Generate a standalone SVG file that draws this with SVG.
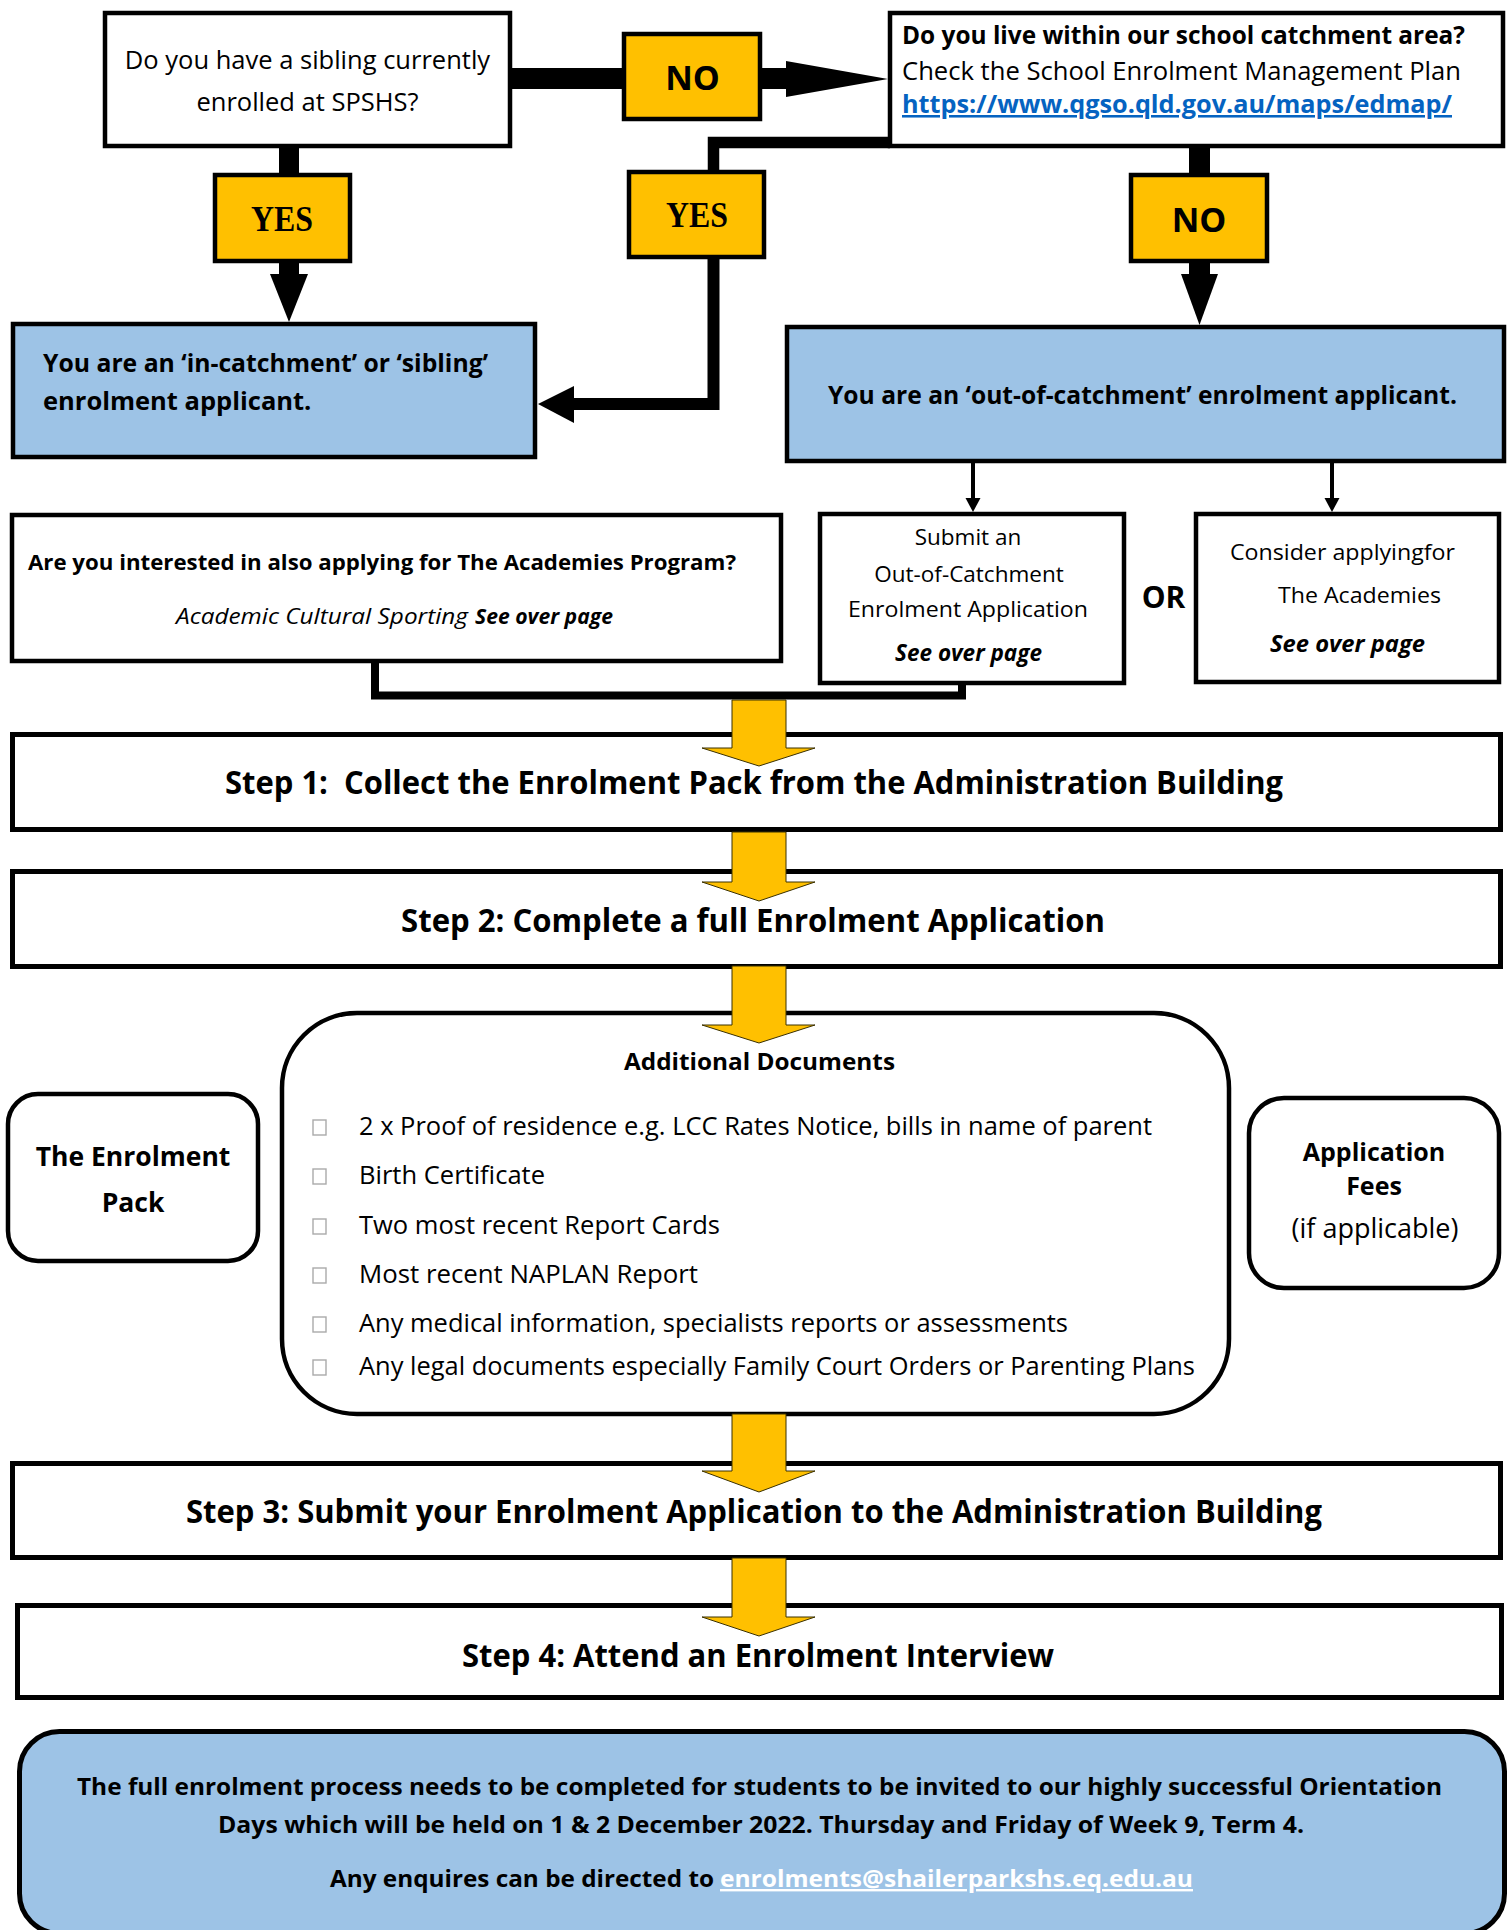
<svg xmlns="http://www.w3.org/2000/svg" width="1509" height="1930" viewBox="0 0 1509 1930">
<style>
.box{fill:#fff;stroke:#000;stroke-width:4.5}
.blue{fill:#9DC3E6;stroke:#000;stroke-width:4.5}
.lbl{fill:#FFC000;stroke:#000;stroke-width:4.5}
.step{fill:#fff;stroke:#000;stroke-width:5}
.t{font-family:"Open Sans","Noto Sans","Liberation Sans",sans-serif;font-size:25.5px;fill:#000}
.b{font-weight:700}
.i{font-style:italic}
.m{text-anchor:middle}
.yes{font-family:"Liberation Serif","Times New Roman",serif;font-weight:700;font-size:35px;text-anchor:middle}
.no{font-weight:700;font-size:34px;text-anchor:middle}
.st{font-weight:700;font-size:32px}
.sm{font-size:22.5px}
.bt{font-weight:700;font-size:24px}
.yarrow{fill:#FFC000;stroke:#3a3000;stroke-width:1}
.chk{fill:none;stroke:#aaa;stroke-width:1.4}
.thick{fill:none;stroke:#000;stroke-linejoin:miter}
</style>

<g id="sibling-question">
<rect class="box" x="105" y="13" width="405" height="133"/>
<text class="t m" x="307.5" y="69">Do you have a sibling currently</text>
<text class="t m" x="307.5" y="111">enrolled at SPSHS?</text>
</g>

<g id="no-label-1">
<rect class="lbl" x="624" y="34" width="136" height="85"/>
<text class="t no" x="692.5" y="90">NO</text>
</g>

<g id="catchment-question">
<rect class="box" x="890" y="13" width="613" height="133"/>
<text class="t b" x="902" y="44" textLength="563" lengthAdjust="spacingAndGlyphs">Do you live within our school catchment area?</text>
<text class="t" x="902" y="80" textLength="559" lengthAdjust="spacingAndGlyphs">Check the School Enrolment Management Plan</text>
<text class="t b" x="902" y="113" style="fill:#0563C1" text-decoration="underline" textLength="550" lengthAdjust="spacingAndGlyphs">https://www.qgso.qld.gov.au/maps/edmap/</text>
</g>

<g id="yes-label-1">
<rect class="lbl" x="215" y="175" width="135" height="86"/>
<text class="yes" x="282" y="231" textLength="62" lengthAdjust="spacingAndGlyphs">YES</text>
</g>

<g id="yes-label-2">
<rect class="lbl" x="629" y="172" width="135" height="85"/>
<text class="yes" x="697" y="227" textLength="62" lengthAdjust="spacingAndGlyphs">YES</text>
</g>

<g id="no-label-2">
<rect class="lbl" x="1131" y="175" width="136" height="86"/>
<text class="t no" x="1199" y="232">NO</text>
</g>

<g id="in-catchment">
<rect class="blue" x="13" y="324" width="522" height="133"/>
<text class="t b" x="43" y="372" textLength="445" lengthAdjust="spacingAndGlyphs">You are an ‘in-catchment’ or ‘sibling’</text>
<text class="t b" x="43" y="410">enrolment applicant.</text>
</g>

<g id="out-of-catchment">
<rect class="blue" x="787" y="327" width="717" height="134"/>
<text class="t b" x="828" y="404" textLength="629" lengthAdjust="spacingAndGlyphs">You are an ‘out-of-catchment’ enrolment applicant.</text>
</g>

<g id="academies-question">
<rect class="box" x="12" y="515" width="769" height="146"/>
<text class="t b" x="28" y="570" style="font-size:22px" textLength="708" lengthAdjust="spacingAndGlyphs">Are you interested in also applying for The Academies Program?</text>
<text class="t i" x="176" y="624" style="font-size:22px" textLength="292" lengthAdjust="spacingAndGlyphs">Academic Cultural Sporting</text>
<text class="t b i" x="475" y="624" style="font-size:22px" textLength="138" lengthAdjust="spacingAndGlyphs">See over page</text>
</g>

<g id="submit-ooc">
<rect class="box" x="820" y="514" width="304" height="169"/>
<text class="t sm m" x="968" y="545">Submit an</text>
<text class="t sm m" x="969" y="582">Out-of-Catchment</text>
<text class="t sm m" x="968" y="617" textLength="240" lengthAdjust="spacingAndGlyphs">Enrolment Application</text>
<text class="t sm b i m" x="968.5" y="661">See over page</text>
</g>

<g id="or-label">
<text class="t b m" x="1163.5" y="608" style="font-size:30px">OR</text>
</g>

<g id="consider-academies">
<rect class="box" x="1196" y="514" width="303" height="168"/>
<text class="t sm" x="1230" y="560" textLength="225" lengthAdjust="spacingAndGlyphs">Consider applyingfor</text>
<text class="t sm" x="1278" y="603" textLength="163" lengthAdjust="spacingAndGlyphs">The Academies</text>
<text class="t sm b i" x="1270" y="652" textLength="155" lengthAdjust="spacingAndGlyphs">See over page</text>
</g>

<g id="step-1">
<rect class="step" x="12.5" y="734.5" width="1488" height="95"/>
<text class="t st" x="225" y="794" xml:space="preserve" textLength="1058" lengthAdjust="spacingAndGlyphs">Step 1:  Collect the Enrolment Pack from the Administration Building</text>
</g>

<g id="step-2">
<rect class="step" x="12.5" y="871.5" width="1488" height="95"/>
<text class="t st" x="401" y="932" textLength="704" lengthAdjust="spacingAndGlyphs">Step 2: Complete a full Enrolment Application</text>
</g>

<g id="enrolment-pack">
<rect class="box" x="8" y="1094" width="250" height="167" rx="30"/>
<text class="t b m" x="133" y="1166" style="font-size:26.5px">The Enrolment</text>
<text class="t b m" x="133" y="1212" style="font-size:26.5px">Pack</text>
</g>

<g id="additional-documents">
<rect class="box" x="282" y="1013" width="947" height="401" rx="75"/>
<text class="t b m" x="759.5" y="1070" style="font-size:23px" textLength="271" lengthAdjust="spacingAndGlyphs">Additional Documents</text>
<rect class="chk" x="313" y="1120" width="13" height="15"/>
<text class="t" x="359" y="1135" textLength="793" lengthAdjust="spacingAndGlyphs">2 x Proof of residence e.g. LCC Rates Notice, bills in name of parent</text>
<rect class="chk" x="313" y="1169" width="13" height="15"/>
<text class="t" x="359" y="1184" textLength="186" lengthAdjust="spacingAndGlyphs">Birth Certificate</text>
<rect class="chk" x="313" y="1219" width="13" height="15"/>
<text class="t" x="359" y="1234" textLength="361" lengthAdjust="spacingAndGlyphs">Two most recent Report Cards</text>
<rect class="chk" x="313" y="1268" width="13" height="15"/>
<text class="t" x="359" y="1283" textLength="339" lengthAdjust="spacingAndGlyphs">Most recent NAPLAN Report</text>
<rect class="chk" x="313" y="1317" width="13" height="15"/>
<text class="t" x="359" y="1332" textLength="709" lengthAdjust="spacingAndGlyphs">Any medical information, specialists reports or assessments</text>
<rect class="chk" x="313" y="1360" width="13" height="15"/>
<text class="t" x="359" y="1375" textLength="836" lengthAdjust="spacingAndGlyphs">Any legal documents especially Family Court Orders or Parenting Plans</text>
</g>

<g id="application-fees">
<rect class="box" x="1249" y="1098" width="250" height="190" rx="35"/>
<text class="t b m" x="1374" y="1161" style="font-size:25px">Application</text>
<text class="t b m" x="1374" y="1195" style="font-size:25px">Fees</text>
<text class="t m" x="1375" y="1238" style="font-size:27px">(if applicable)</text>
</g>

<g id="step-3">
<rect class="step" x="12.5" y="1463.5" width="1488" height="94"/>
<text class="t st" x="186" y="1523" textLength="1136" lengthAdjust="spacingAndGlyphs">Step 3: Submit your Enrolment Application to the Administration Building</text>
</g>

<g id="step-4">
<rect class="step" x="17.5" y="1605.5" width="1484" height="92"/>
<text class="t st" x="462" y="1667" textLength="592" lengthAdjust="spacingAndGlyphs">Step 4: Attend an Enrolment Interview</text>
</g>

<g id="footer-note">
<rect class="blue" x="19.5" y="1731.5" width="1485" height="202" rx="40" style="stroke-width:5"/>
<text class="t bt" x="77" y="1795" textLength="1365" lengthAdjust="spacingAndGlyphs">The full enrolment process needs to be completed for students to be invited to our highly successful Orientation</text>
<text class="t bt" x="218" y="1833" textLength="1086" lengthAdjust="spacingAndGlyphs">Days which will be held on 1 &amp; 2 December 2022. Thursday and Friday of Week 9, Term 4.</text>
<text class="t bt" x="330" y="1887" textLength="384" lengthAdjust="spacingAndGlyphs">Any enquires can be directed to</text>
<text class="t bt" x="720" y="1887" style="fill:#fff" text-decoration="underline" textLength="473" lengthAdjust="spacingAndGlyphs">enrolments@shailerparkshs.eq.edu.au</text>
</g>

<g id="connectors">
<rect x="512" y="68" width="112" height="21" fill="#000"/>
<rect x="760" y="68" width="27" height="21" fill="#000"/>
<polygon points="786,61 888,79 786,97" fill="#000"/>
<rect x="279" y="146" width="20" height="29" fill="#000"/>
<rect x="279" y="261" width="20" height="14" fill="#000"/>
<polygon points="270,274 308,274 289,322" fill="#000"/>
<polyline class="thick" points="890,142.5 713.5,142.5 713.5,172" style="stroke-width:11.5"/>
<polyline class="thick" points="713.5,257 713.5,404 572,404" style="stroke-width:12"/>
<polygon points="574,386 574,423 538,404" fill="#000"/>
<rect x="1189" y="146" width="21" height="29" fill="#000"/>
<rect x="1189" y="261" width="21" height="14" fill="#000"/>
<polygon points="1181,274 1218,274 1199.5,325" fill="#000"/>
<line x1="973" y1="461" x2="973" y2="500" stroke="#000" stroke-width="4"/>
<polygon points="965.5,498 980.5,498 973,512" fill="#000"/>
<line x1="1332" y1="461" x2="1332" y2="500" stroke="#000" stroke-width="4"/>
<polygon points="1324.5,498 1339.5,498 1332,512" fill="#000"/>
<polyline class="thick" points="375,661 375,695.5 962,695.5 962,683" style="stroke-width:8"/>
<polygon class="yarrow" points="732,700 786,700 786,748 815,748 759,766 702,748 732,748"/>
<polygon class="yarrow" points="732,832 786,832 786,882 815,882 759,901 702,882 732,882"/>
<polygon class="yarrow" points="732,966 786,966 786,1025 815,1025 759,1043 702,1025 732,1025"/>
<polygon class="yarrow" points="732,1414 786,1414 786,1471 815,1471 759,1492 702,1471 732,1471"/>
<polygon class="yarrow" points="732,1558 786,1558 786,1617 815,1617 759,1636 702,1617 732,1617"/>
</g>
</svg>
